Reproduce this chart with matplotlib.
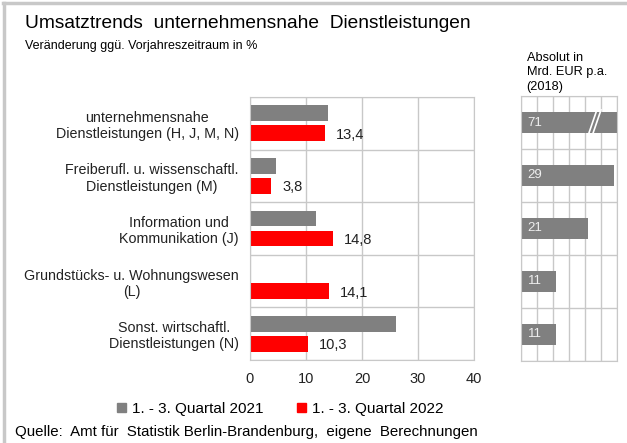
import matplotlib
matplotlib.use('Agg')
import matplotlib.pyplot as plt
import numpy as np
from matplotlib.lines import Line2D
from matplotlib.patches import Patch

plt.rcParams['font.family'] = ['Liberation Sans', 'DejaVu Sans']

# Daten
kategorien = [
    "unternehmensnahe\nDienstleistungen (H, J, M, N)",
    "Freiberufl. u. wissenschaftl.\nDienstleistungen (M)",
    "Information und\nKommunikation (J)",
    "Grundstücks- u. Wohnungswesen\n(L)",
    "Sonst. wirtschaftl.\nDienstleistungen (N)",
]
werte_2021 = [13.9, 4.6, 11.8, 0.0, 26.1]
werte_2022 = [13.4, 3.8, 14.8, 14.1, 10.3]
absolut_2018 = [71, 29, 21, 11, 11]
x_ticks = [0, 10, 20, 30, 40]
legende = ["1. - 3. Quartal 2021", "1. - 3. Quartal 2022"]

grau = "#808080"
rot = "#ff0000"
gitter = "#c8c8c8"

fig = plt.figure(figsize=(6.27, 4.43), dpi=100)

# Rahmen oben und links
fig.add_artist(Line2D([0.005, 1], [0.993, 0.993], color=gitter, lw=2.5, transform=fig.transFigure))
fig.add_artist(Line2D([0.006, 0.006], [0, 0.993], color=gitter, lw=2.5, transform=fig.transFigure))

fig.text(0.040, 0.946, "Umsatztrends  unternehmensnahe  Dienstleistungen", fontsize=13.8, va='center')
fig.text(0.040, 0.897, "Veränderung ggü. Vorjahreszeitraum in %", fontsize=9, va='center')

# Hauptdiagramm
ax = fig.add_axes([0.3987, 0.1874, 0.3573, 0.5936])
y = np.arange(len(kategorien))
h = 0.30
ax.barh(y - 0.19, werte_2021, height=h, color=grau)
ax.barh(y + 0.19, werte_2022, height=h, color=rot)
for yi, v in zip(y, werte_2022):
    ax.annotate(f"{v:.1f}".replace(".", ","), (v, yi + 0.22), xytext=(8, 0),
                textcoords='offset points', va='center', fontsize=10.5, color='#222222')
ax.set_xlim(0, 40)
ax.set_ylim(len(kategorien) - 0.5, -0.5)
ax.set_xticks(x_ticks)
ax.set_yticks(y)
ax.set_yticklabels(kategorien, fontsize=10.3, multialignment='center')
ax.set_yticks(np.arange(len(kategorien) + 1) - 0.5, minor=True)
ax.tick_params(axis='both', length=0, pad=8, colors='#222222')
ax.tick_params(axis='x', labelsize=10.5, pad=9)
ax.tick_params(axis='y', which='minor', length=0)
ax.grid(axis='x', color=gitter, lw=1)
ax.grid(axis='y', which='minor', color=gitter, lw=1)
ax.set_axisbelow(True)
for s in ax.spines.values():
    s.set_color(gitter)

# Absolutwerte
ax2 = fig.add_axes([0.8305, 0.186, 0.1531, 0.597])
ax2.barh(y, absolut_2018, height=0.4, color=grau)
ax2.set_xlim(0, 30)
ax2.set_ylim(len(kategorien) - 0.5, -0.5)
ax2.set_xticks(range(0, 31, 5))
ax2.set_yticks(np.arange(len(kategorien) + 1) - 0.5)
ax2.set_xticklabels([])
ax2.set_yticklabels([])
ax2.tick_params(length=0)
ax2.grid(color=gitter, lw=1)
ax2.set_axisbelow(True)
for s in ax2.spines.values():
    s.set_color(gitter)
for yi, v in zip(y, absolut_2018):
    ax2.text(4.5, yi, str(v), ha='center', va='center', fontsize=9.5, color='#eeeeee')
# Achsenbruch beim ersten Balken
for dx in (0, 1.3):
    ax2.plot([21.3 + dx, 23.8 + dx], [0.2, -0.24], color='white', lw=1.2)
fig.text(0.840, 0.790, "Absolut in\nMrd. EUR p.a.\n(2018)", fontsize=9.2, va='bottom',
         linespacing=1.3)

handles = [Patch(color=grau), Patch(color=rot)]
fig.legend(handles, legende, loc='center', bbox_to_anchor=(0.447, 0.077), ncol=2,
           frameon=False, fontsize=11, handlelength=0.6, handleheight=0.6,
           handletextpad=0.4, columnspacing=2.2)

fig.text(0.024, 0.025, "Quelle:  Amt für  Statistik Berlin-Brandenburg,  eigene  Berechnungen",
         fontsize=10.8, va='center')

plt.savefig("out.png", dpi=100)
plt.close()
